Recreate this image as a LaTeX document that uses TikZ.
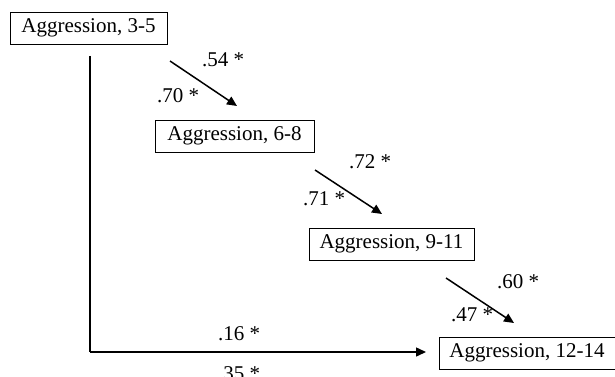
\documentclass[tikz,border=0pt]{standalone}
\usepackage{fontspec}
\setmainfont{Liberation Serif}
\usetikzlibrary{arrows.meta}
\begin{document}
\begin{tikzpicture}[x=1pt,y=-1pt,
  box/.style={draw,line width=0.9pt,minimum height=32pt,inner sep=0pt,font=\fontsize{21}{24}\selectfont},
  lab/.style={font=\fontsize{21}{24}\selectfont,inner sep=0pt},
  arr/.style={line width=1.5pt,-{Triangle[length=10pt,width=9pt]}},
  ln/.style={line width=1.2pt}]
\useasboundingbox (0,0) rectangle (615,377);
\clip (0,0) rectangle (615,377);
\node[box,minimum width=157pt] (a) at (88.5,28) {Aggression, 3-5};
\node[box,minimum width=159pt] (b) at (234.5,136) {Aggression, 6-8};
\node[box,minimum width=165pt] (c) at (391.5,244) {Aggression, 9-11};
\node[box,minimum width=176pt] (d) at (527,353) {Aggression, 12-14};
\coordinate (v0) at (90,56);
\coordinate (v1) at (90,352);
\coordinate (h1) at (426,352);
\coordinate (s1) at (170,61); \coordinate (e1) at (237,106);
\coordinate (s2) at (315,170); \coordinate (e2) at (382,214);
\coordinate (s3) at (446,278); \coordinate (e3) at (514,323);
\draw[ln] (v0) -- (v1);
\draw[arr] (v1) -- (h1);
\draw[arr] (s1) -- (e1);
\draw[arr] (s2) -- (e2);
\draw[arr] (s3) -- (e3);
\node[lab] (l1) at (223,60) {.54 *};
\node[lab] (l2) at (178,96) {.70 *};
\node[lab] (l3) at (370,162) {.72 *};
\node[lab] (l4) at (324,199) {.71 *};
\node[lab] (l5) at (518,282) {.60 *};
\node[lab] (l6) at (472,315) {.47 *};
\node[lab] (l7) at (239,334) {.16 *};
\node[lab] (l8) at (239,374) {.35 *};
\end{tikzpicture}
\end{document}
